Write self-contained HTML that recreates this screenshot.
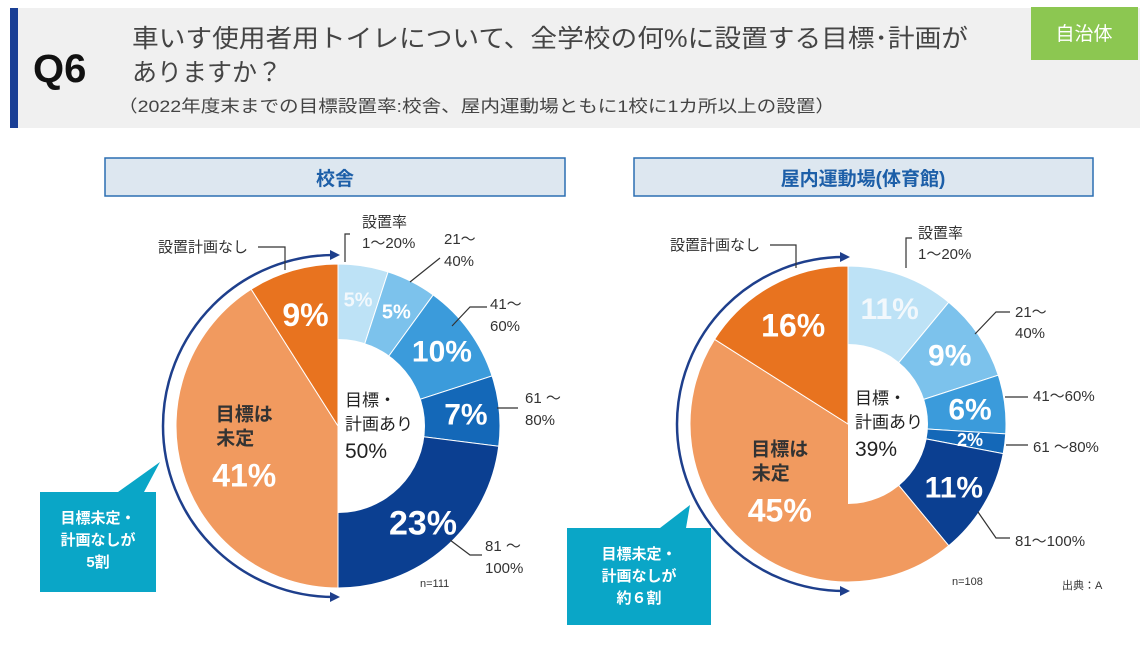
<!DOCTYPE html>
<html><head><meta charset="utf-8"><style>
body{margin:0;width:1146px;height:646px;background:#fff;overflow:hidden;font-family:"Liberation Sans","Noto Sans CJK JP",sans-serif;}
svg{position:absolute;left:0;top:0}
</style></head><body>
<svg width="1146" height="646" font-family="Liberation Sans, Noto Sans CJK JP, sans-serif">
<rect x="10" y="8" width="1130" height="120" fill="#f0f0f0"/>
<rect x="10" y="8" width="8" height="120" fill="#1a3f95"/>
<text x="33" y="82" font-size="40" font-weight="bold" fill="#111">Q6</text>
<text x="132" y="47" font-size="25" fill="#444" textLength="836" lengthAdjust="spacingAndGlyphs">車いす使用者用トイレについて、全学校の何%に設置する目標･計画が</text>
<text x="132" y="81" font-size="25" fill="#444">ありますか？</text>
<text x="118" y="112" font-size="17" fill="#444" textLength="717" lengthAdjust="spacingAndGlyphs">（2022年度末までの目標設置率:校舎、屋内運動場ともに1校に1カ所以上の設置）</text>
<rect x="1031" y="7" width="107" height="53" fill="#8cc751"/>
<text x="1084" y="40" font-size="19" fill="#fff" text-anchor="middle">自治体</text>
<rect x="105" y="158" width="460" height="38" fill="#dde7f0" stroke="#2b6fb2" stroke-width="1.5"/>
<text x="335" y="185" font-size="19" font-weight="bold" fill="#1d5fa8" text-anchor="middle">校舎</text>
<rect x="634" y="158" width="459" height="38" fill="#dde7f0" stroke="#2b6fb2" stroke-width="1.5"/>
<text x="863" y="185" font-size="19" font-weight="bold" fill="#1d5fa8" text-anchor="middle">屋内運動場(体育館)</text>
<g id="pies"></g>
<g id="annot" font-size="15" fill="#333" stroke="none"></g>
<text x="420" y="587" font-size="11" fill="#333">n=111</text>
<text x="952" y="585" font-size="11" fill="#333">n=108</text>
<text x="1062" y="589" font-size="11" fill="#333">出典：A</text>
</svg>
<script>
const categories=["1～20%","21～40%","41～60%","61～80%","81～100%","目標は未定","設置計画なし"];
const schoolValues=[5,5,10,7,23,41,9];
const gymValues=[11,9,6,2,11,45,16];
const colors=["#bde2f6","#7cc2ec","#3b9bdb","#1468b8","#0b3f91","#f19a5f","#e8731f"];
const NS="http://www.w3.org/2000/svg";
const pies=document.getElementById('pies');
function mk(tag,attrs,parent){const e=document.createElementNS(NS,tag);for(const k in attrs)e.setAttribute(k,attrs[k]);(parent||pies).appendChild(e);return e;}
function pt(cx,cy,r,a){return [cx+r*Math.sin(a),cy-r*Math.cos(a)];}
function drawPie(vals,cx,cy,R,hole,prefix){
  const total=vals.reduce((a,b)=>a+b,0);
  let a0=0;const mids=[];
  vals.forEach((v,i)=>{
    const a1=a0+v/total*2*Math.PI;
    const [x0,y0]=pt(cx,cy,R,a0),[x1,y1]=pt(cx,cy,R,a1);
    const large=(a1-a0)>Math.PI?1:0;
    const p=mk('path',{d:`M${cx},${cy}L${x0},${y0}A${R},${R} 0 ${large} 1 ${x1},${y1}Z`,fill:colors[i],stroke:'#fff','stroke-width':1});
    
    
    mids.push([a0,a1,v]);a0=a1;
  });
  const h=mk('path',{d:`M${cx},${cy-hole}A${hole},${hole} 0 0 1 ${cx},${cy+hole}Z`,fill:'#fff'});
  
  
  mids.forEach(([s,e,v],i)=>{
    const m=(s+e)/2;
    if(i<5){
      const [x,y]=pt(cx,cy,(R+hole)/2+4,m);
      const fs=v<3?18:(v<6?20:(v<12?30:34));
      const t=mk('text',{x:x,y:y+fs*0.36,'font-size':fs,'font-weight':'bold',fill:i==0?'#f2f8fc':'#fff','text-anchor':'middle'});
      t.textContent=v+'%';
      
      
    }else if(i==5){
      const [x,y]=pt(cx,cy,R*0.5,m);
      const t1=mk('text',{x:x-16,y:y-28,'font-size':19,'font-weight':'bold',fill:'#333','text-anchor':'middle'});t1.textContent='目標は';
      
      const t2=mk('text',{x:x-25,y:y-4,'font-size':19,'font-weight':'bold',fill:'#333','text-anchor':'middle'});t2.textContent='未定';
      
      const t3=mk('text',{x:x-16,y:y+38,'font-size':32,'font-weight':'bold',fill:'#fff','text-anchor':'middle'});t3.textContent=v+'%';
      
    }else{
      const [x,y]=pt(cx,cy,R*0.72,m);
      const t=mk('text',{x:x,y:y+12,'font-size':32,'font-weight':'bold',fill:'#fff','text-anchor':'middle'});t.textContent=v+'%';
      
    }
  });
  const planned=vals.slice(0,5).reduce((a,b)=>a+b,0);
  [['目標・',cy-20,17],['計画あり',cy+4,17],[planned+'%',cy+32,21]].forEach((d,k)=>{
    const t=mk('text',{x:cx+7,y:d[1],'font-size':d[2],fill:'#222'});t.textContent=d[0];
    
  });
  const ar=R+9;
  const arc=mk('path',{d:`M${cx-4},${cy-ar}A${ar},${ar} 0 0 0 ${cx-4},${cy+ar}`,fill:'none',stroke:'#1e3f8c','stroke-width':2.5});
  
  [cy-ar,cy+ar].forEach((yy,k)=>{
    const ah=mk('path',{d:`M${cx+2},${yy}L${cx-8},${yy-5}L${cx-8},${yy+5}Z`,fill:'#1e3f8c'});
    
  });
}
drawPie(schoolValues,338,426,162,87,'school');
drawPie(gymValues,848,424,158,80,'gym');
const an=document.getElementById('annot');
function txt(x,y,s,name){const t=mk('text',{x:x,y:y},an);t.textContent=s;}
function ln(d,name){const p=mk('path',{d:d,fill:'none',stroke:'#333','stroke-width':1.2},an);}
txt(158,252,'設置計画なし','school-ann-noplan');ln('M258,247H285V270','school-ann-noplan-line');
txt(362,227,'設置率','school-ann-rate');txt(362,248,'1～20%','school-ann-0');ln('M350,234H345V262','school-ann-0-line');
txt(444,244,'21～','school-ann-1a');txt(444,266,'40%','school-ann-1b');ln('M440,258L410,282','school-ann-1-line');
txt(490,309,'41～','school-ann-2a');txt(490,331,'60%','school-ann-2b');ln('M487,307H470L452,326','school-ann-2-line');
txt(525,403,'61 ～','school-ann-3a');txt(525,425,'80%','school-ann-3b');ln('M497,408H518','school-ann-3-line');
txt(485,551,'81 ～','school-ann-4a');txt(485,573,'100%','school-ann-4b');ln('M450,540L470,555H482','school-ann-4-line');
txt(670,250,'設置計画なし','gym-ann-noplan');ln('M770,245H796V268','gym-ann-noplan-line');
txt(918,238,'設置率','gym-ann-rate');txt(918,259,'1～20%','gym-ann-0');ln('M912,238H906V268','gym-ann-0-line');
txt(1015,317,'21～','gym-ann-1a');txt(1015,338,'40%','gym-ann-1b');ln('M1010,312H996L975,334','gym-ann-1-line');
txt(1033,401,'41～60%','gym-ann-2');ln('M1005,397H1028','gym-ann-2-line');
txt(1033,452,'61 ～80%','gym-ann-3');ln('M1006,445H1028','gym-ann-3-line');
txt(1015,546,'81～100%','gym-ann-4');ln('M978,512L996,538H1010','gym-ann-4-line');
function callout(x,y,w,h,tx,ty,tipx,lines,name){
  const g=mk('g',{},an);
  mk('path',{d:`M${x},${y}H${tx}L${tipx},${ty}L${tx+26},${y}H${x+w}V${y+h}H${x}Z`,fill:'#0aa6c7'},g);
  lines.forEach((s,i)=>{const t=mk('text',{x:x+w/2,y:y+31+i*22,'font-size':15,'font-weight':'bold',fill:'#fff','text-anchor':'middle'},g);t.textContent=s;});
}
callout(40,492,116,100,118,462,160,['目標未定・','計画なしが','5割'],'school-callout');
callout(567,528,144,97,660,505,690,['目標未定・','計画なしが','約６割'],'gym-callout');
</script>
</body></html>
